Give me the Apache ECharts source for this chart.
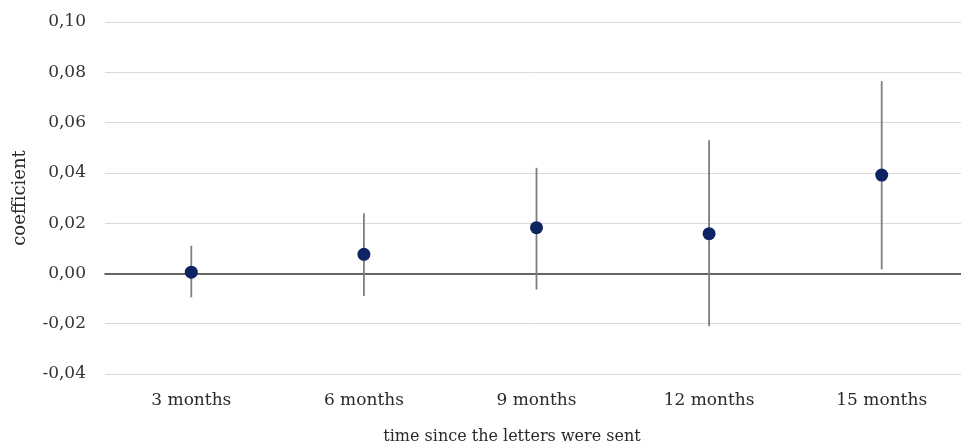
<!DOCTYPE html>
<html>
<head>
<meta charset="utf-8">
<script src="https://cdn.jsdelivr.net/npm/echarts@6/dist/echarts.min.js"></script>
<style>
html,body{margin:0;padding:0;background:#fff;}
#chart{width:961px;height:448px;}
</style>
</head>
<body>
<div id="chart"></div>
<script>
var categories = ['3 months', '6 months', '9 months', '12 months', '15 months'];
var coefficients = [0.0005, 0.0076, 0.0182, 0.0158, 0.0391];
var lowerBounds = [-0.0095, -0.0090, -0.0064, -0.0210, 0.0016];
var upperBounds = [0.0110, 0.0239, 0.0420, 0.0530, 0.0765];
var yTickLabels = ['-0,04', '-0,02', '0,00', '0,02', '0,04', '0,06', '0,08', '0,10'];
var yMin = -0.04, yMax = 0.10, yStep = 0.02;

var chart = echarts.init(document.getElementById('chart'), null, {renderer: 'canvas'});
var serif = '"DejaVu Serif", "Liberation Serif", serif';

var errData = categories.map(function (c, i) { return [i, lowerBounds[i], upperBounds[i]]; });

chart.setOption({
  animation: false,
  backgroundColor: '#ffffff',
  grid: {left: 105, top: 22, width: 863, height: 352, containLabel: false, outerBoundsMode: 'none'},
  xAxis: {
    type: 'category',
    data: categories,
    axisLine: {onZero: true, lineStyle: {color: '#3a3a3a', width: 1.6}},
    axisTick: {show: false},
    axisLabel: {color: '#2a2a2a', fontFamily: serif, fontSize: 17, margin: 18},
    splitLine: {show: false}
  },
  yAxis: {
    type: 'value',
    min: yMin, max: yMax, interval: yStep,
    name: 'coefficient',
    nameLocation: 'middle',
    nameGap: 76,
    nameRotate: 90,
    nameTextStyle: {color: '#2a2a2a', fontFamily: serif, fontSize: 18},
    axisLine: {show: false},
    axisTick: {show: false},
    axisLabel: {
      color: '#333', fontFamily: serif, fontSize: 17, margin: 19,
      formatter: function (v) {
        var idx = Math.round((v - yMin) / yStep);
        return yTickLabels[idx];
      }
    },
    splitLine: {lineStyle: {color: '#d9d9d9', width: 1}}
  },
  graphic: [{
    type: 'text',
    x: 512, y: 437,
    style: {text: 'time since the letters were sent', fill: '#2a2a2a', font: '16px ' + serif, align: 'center', verticalAlign: 'middle'}
  }],
  series: [{
    type: 'custom',
    data: errData,
    z: 2,
    renderItem: function (params, api) {
      var x = api.value(0);
      var lo = api.coord([x, api.value(1)]);
      var hi = api.coord([x, api.value(2)]);
      return {
        type: 'line',
        shape: {x1: lo[0], y1: lo[1], x2: hi[0], y2: hi[1]},
        style: {stroke: '#7f7f7f', lineWidth: 1.8}
      };
    }
  }, {
    type: 'scatter',
    data: coefficients,
    symbol: 'circle',
    symbolSize: 13,
    z: 3,
    itemStyle: {color: '#0c2461', opacity: 1}
  }]
});
</script>
</body>
</html>
